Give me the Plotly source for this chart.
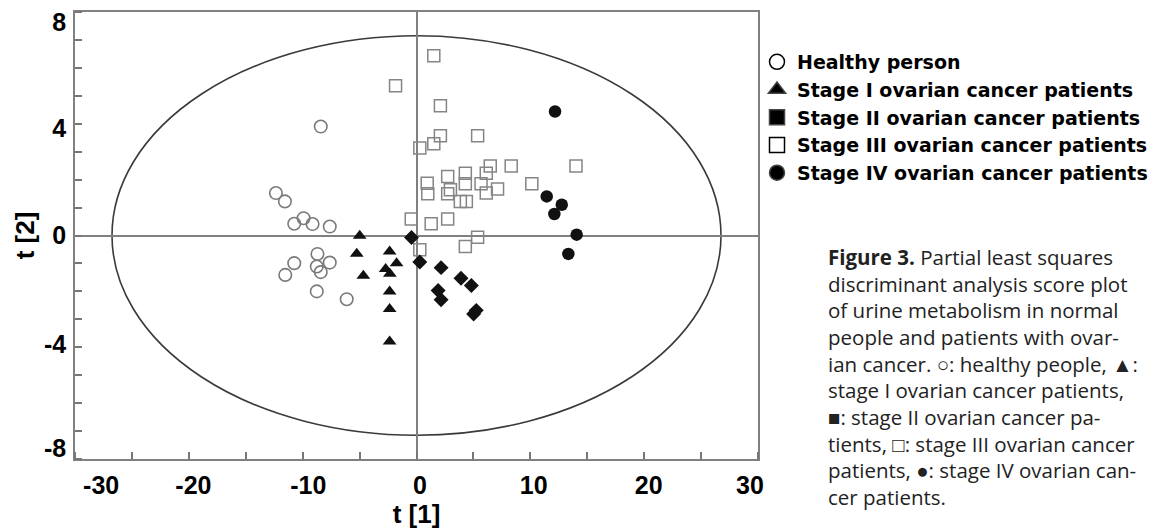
import plotly.graph_objects as go

# ---------------- data (t[1], t[2] scores) ----------------
healthy_x = [-8.41, -12.35, -11.56, -10.74, -9.92, -9.13, -7.62, -8.70, -10.74, -7.62, -8.76, -8.41, -11.53, -8.76, -6.13]
healthy_y = [3.90, 1.52, 1.22, 0.42, 0.62, 0.41, 0.32, -0.66, -0.99, -0.97, -1.11, -1.31, -1.41, -2.00, -2.28]

stage1_x = [-4.99, -5.25, -2.36, -1.75, -2.71, -4.67, -2.34, -2.36, -2.36, -2.36]
stage1_y = [-0.01, -0.65, -0.57, -0.99, -1.20, -1.44, -1.37, -2.00, -2.63, -3.79]

stage2_x = [-0.44, 0.29, 2.16, 3.91, 4.82, 1.90, 2.16, 5.25, 5.02]
stage2_y = [-0.07, -0.95, -1.15, -1.53, -1.79, -1.97, -2.30, -2.68, -2.81]

stage3_x = [1.52, -1.84, 2.10, 2.10, 5.37, 1.52, 0.29, 0.94, 0.99, 2.74, 4.29, 2.98, 2.74, 4.29, 3.85,
            4.38, 5.67, 6.13, 6.48, 6.13, 7.12, 8.32, 10.13, 14.01, -0.46, 1.29, 2.74, 5.37, 4.29, 0.29]
stage3_y = [6.43, 5.36, 4.64, 3.57, 3.57, 3.28, 3.13, 1.87, 1.49, 2.11, 2.23, 1.64, 1.49, 1.85, 1.22,
            1.22, 1.85, 2.23, 2.49, 1.52, 1.66, 2.49, 1.85, 2.49, 0.59, 0.42, 0.59, -0.06, -0.39, -0.51]

stage4_x = [12.17, 11.44, 12.76, 12.11, 14.07, 13.34]
stage4_y = [4.44, 1.40, 1.10, 0.77, 0.03, -0.66]

legend_labels = ["Healthy person", "Stage I ovarian cancer patients", "Stage II ovarian cancer patients",
                 "Stage III ovarian cancer patients", "Stage IV ovarian cancer patients"]

# tick labels; in the source figure the printed labels sit slightly inward of their ticks
x_tick_labels = ["-30", "-20", "-10", "0", "10", "20", "30"]
x_label_at = [-27.7, -19.6, -9.5, 0.3, 10.3, 20.4, 29.3]
y_tick_labels = ["-8", "-4", "0", "4", "8"]
y_label_at = [-7.6, -3.9, 0.0, 3.85, 7.65]

ellipse_a = 26.75   # Hotelling T2 ellipse semi-axis along t[1]
ellipse_b = 7.15    # semi-axis along t[2]

caption_lines = [
    "<b>Figure 3.</b> Partial least squares",
    "discriminant analysis score plot",
    "of urine metabolism in normal",
    "people and patients with ovar-",
    "ian cancer. ○: healthy people, ▲:",
    "stage I ovarian cancer patients,",
    "■: stage II ovarian cancer pa-",
    "tients, □: stage III ovarian cancer",
    "patients, ●: stage IV ovarian can-",
    "cer patients.",
]

# ---------------- layout geometry (pixels) ----------------
W, H = 1161, 531
L, R, T, B = 75, 758, 12, 459

fig = go.Figure()

# data traces
fig.add_trace(go.Scatter(x=healthy_x, y=healthy_y, mode="markers", showlegend=False,
                         marker=dict(symbol="circle-open", size=12.5, color="#7a7a7a", line=dict(width=1.6))))
fig.add_trace(go.Scatter(x=stage3_x, y=stage3_y, mode="markers", showlegend=False,
                         marker=dict(symbol="square-open", size=12, color="#858585", line=dict(width=1.5))))
fig.add_trace(go.Scatter(x=stage1_x, y=stage1_y, mode="markers", showlegend=False,
                         marker=dict(symbol="triangle-up", size=12, color="#111111")))
fig.add_trace(go.Scatter(x=stage2_x, y=stage2_y, mode="markers", showlegend=False,
                         marker=dict(symbol="diamond", size=11.5, color="#111111")))
fig.add_trace(go.Scatter(x=stage4_x, y=stage4_y, mode="markers", showlegend=False,
                         marker=dict(symbol="circle", size=12.5, color="#111111")))

# legend-only entries (legend uses black symbols)
legend_symbols = ["circle-open", "triangle-up", "square", "square-open", "circle"]
for lab, sym in zip(legend_labels, legend_symbols):
    fig.add_trace(go.Scatter(x=[None], y=[None], mode="markers", name=lab,
                             marker=dict(symbol=sym, size=15, color="black", line=dict(width=1.5))))

# confidence ellipse
fig.add_shape(type="circle", xref="x", yref="y", x0=-ellipse_a, x1=ellipse_a, y0=-ellipse_b, y1=ellipse_b,
              line=dict(color="#3a3a3a", width=1.6), layer="below")

axis_font = dict(family="Liberation Sans, Arial, sans-serif", size=25, color="black", weight="bold")
title_font = dict(family="Liberation Sans, Arial, sans-serif", size=26, color="black", weight="bold")

fig.update_xaxes(range=[-30, 30], tickvals=x_label_at, ticktext=x_tick_labels, ticks="",
                 minor=dict(dtick=5, tick0=0, ticks="inside", ticklen=7, tickcolor="#777", tickwidth=1.5),
                 showgrid=False, zeroline=True, zerolinecolor="#808080", zerolinewidth=1.5,
                 showline=True, mirror=True, linecolor="#808080", linewidth=1.5,
                 tickfont=axis_font, ticklabelstandoff=3, automargin=False, ticklabeloverflow="allow",
                 title=dict(text="t [1]", font=title_font, standoff=0))
fig.update_yaxes(range=[-8, 8], tickvals=y_label_at, ticktext=y_tick_labels, ticks="",
                 minor=dict(dtick=1, tick0=0, ticks="inside", ticklen=7, tickcolor="#777", tickwidth=1.5),
                 showgrid=False, zeroline=True, zerolinecolor="#808080", zerolinewidth=1.5,
                 showline=True, mirror=True, linecolor="#808080", linewidth=1.5,
                 tickfont=axis_font, ticklabelstandoff=2, automargin=False, ticklabeloverflow="allow",
                 title=dict(text="t [2]", font=title_font, standoff=2))

fig.update_layout(
    width=W, height=H,
    margin=dict(l=L, r=W - R, t=T, b=H - B, pad=0, autoexpand=False),
    paper_bgcolor="white", plot_bgcolor="white",
    legend=dict(xref="container", yref="container", x=757 / W, y=1 - 43 / H,
                xanchor="left", yanchor="top", bgcolor="rgba(0,0,0,0)",
                font=dict(family="DejaVu Sans, sans-serif", size=19, color="black", weight="bold"),
                itemwidth=30, tracegroupgap=0),
)

# caption
cap_x = (826 - L) / (R - L)
cap_y = (B - 241) / (B - T)
fig.add_annotation(xref="paper", yref="paper", x=cap_x, y=cap_y, xanchor="left", yanchor="top",
                   align="left", showarrow=False, text="<br>".join(caption_lines),
                   font=dict(family="Open Sans, sans-serif", size=20.5, color="#222222"))

fig.write_html("out.html")
